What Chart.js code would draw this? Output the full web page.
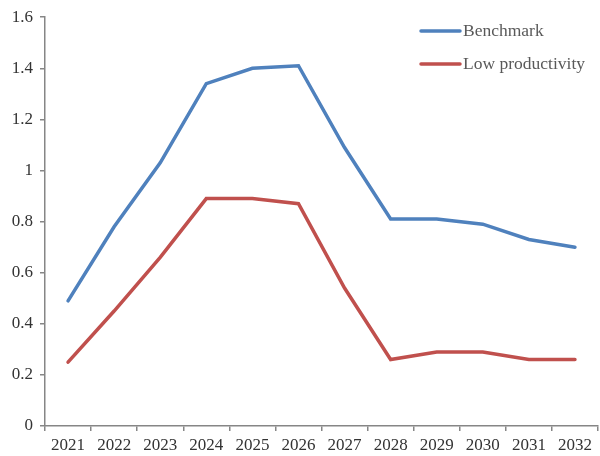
<!DOCTYPE html>
<html>
<head>
<meta charset="utf-8">
<script src="https://cdn.jsdelivr.net/npm/chart.js@4/dist/chart.umd.min.js"></script>
<style>
  html, body { margin: 0; padding: 0; background: #fff; }
  #wrap { width: 600px; height: 456px; position: relative; }
</style>
</head>
<body>
<div id="wrap"><canvas id="chart"></canvas></div>
<script>
const years = ['2021', '2022', '2023', '2024', '2025', '2026', '2027', '2028', '2029', '2030', '2031', '2032'];
const benchmark = [0.49, 0.78, 1.03, 1.34, 1.40, 1.41, 1.09, 0.81, 0.81, 0.79, 0.73, 0.70];
const lowProductivity = [0.25, 0.45, 0.66, 0.89, 0.89, 0.87, 0.54, 0.26, 0.29, 0.29, 0.26, 0.26];
const seriesNames = ['Benchmark', 'Low productivity'];

const axisColor = '#868686';
const fontFamily = '"Liberation Serif", "Times New Roman", serif';

// legend drawn inside the plot, top right, stacked
const insideLegend = {
  id: 'insideLegend',
  afterDraw(chart) {
    const ctx = chart.ctx;
    ctx.save();
    ctx.font = '17.5px ' + fontFamily;
    ctx.textBaseline = 'middle';
    chart.data.datasets.forEach((ds, i) => {
      const y = 31 + i * 33;
      ctx.strokeStyle = ds.borderColor;
      ctx.lineWidth = 3.5;
      ctx.lineCap = 'round';
      ctx.beginPath();
      ctx.moveTo(421, y);
      ctx.lineTo(460, y);
      ctx.stroke();
      ctx.fillStyle = '#595959';
      ctx.fillText(ds.label, 463, y);
    });
    ctx.restore();
  }
};

new Chart(document.getElementById('chart'), {
  type: 'line',
  data: {
    labels: years,
    datasets: [
      { label: seriesNames[0], data: benchmark, borderColor: '#4F81BD', borderWidth: 3.5 },
      { label: seriesNames[1], data: lowProductivity, borderColor: '#C0504D', borderWidth: 3.5 }
    ]
  },
  options: {
    responsive: true,
    maintainAspectRatio: false,
    animation: false,
    layout: { padding: { top: 1, right: 2, left: 0, bottom: 0 } },
    elements: { point: { radius: 0 }, line: { tension: 0, borderCapStyle: 'round' } },
    plugins: { legend: { display: false }, tooltip: { enabled: false } },
    scales: {
      x: {
        offset: true,
        grid: { offset: true, drawOnChartArea: false, drawTicks: true, tickLength: 5, color: axisColor, lineWidth: 1.5 },
        border: { color: axisColor, width: 1.5 },
        ticks: { color: '#333', font: { family: fontFamily, size: 17 }, padding: 4, maxRotation: 0, autoSkip: false },
        afterFit(s) { s.height = 30; }
      },
      y: {
        min: 0, max: 1.6,
        grid: { drawOnChartArea: false, drawTicks: true, tickLength: 5, color: axisColor, lineWidth: 1.5 },
        border: { color: axisColor, width: 1.5 },
        ticks: { stepSize: 0.2, color: '#333', font: { family: fontFamily, size: 17 }, padding: 7,
                 callback: v => Math.round(v * 10) / 10 },
        afterFit(s) { s.width = 45; }
      }
    }
  },
  plugins: [insideLegend]
});
</script>
</body>
</html>
